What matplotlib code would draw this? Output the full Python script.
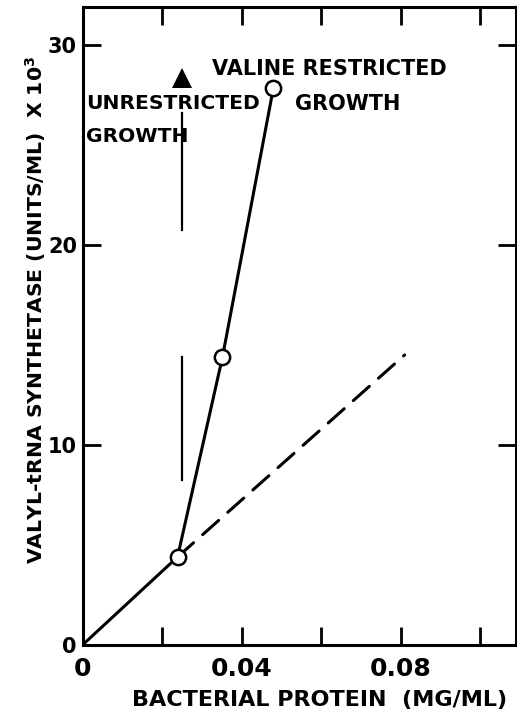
import matplotlib.pyplot as plt

# datos
protein = [0.0239, 0.0352, 0.048]          # mg/ml, puntos medidos
synthetase = [4.4, 14.4, 27.85]            # unidades/ml x 10^3
origin = (0.0, 0.0)
dashed_x = [0.0239, 0.081]                 # extrapolacion (crecimiento no restringido)
dashed_y = [4.4, 14.5]
shift_x = 0.0251                           # momento de la restriccion de valina
shift_low = [8.25, 14.4]
shift_high = [20.75, 26.6]
arrow_tip = 28.35

xticks = [0, 0.02, 0.04, 0.06, 0.08, 0.10]
xticklabels = ['0', '', '0.04', '', '0.08', '']
yticks = [0, 10, 20, 30]
yticklabels = ['0', '10', '20', '30']

plt.rcParams['font.family'] = ['DejaVu Sans']
plt.rcParams['font.weight'] = 'bold'

fig = plt.figure(figsize=(5.17, 7.18), dpi=100)
ax = fig.add_axes([0.1596, 0.1017, 0.8384, 0.8886])

lw = 2.2
ax.plot([origin[0]] + protein, [origin[1]] + synthetase, color='black', lw=lw,
        solid_capstyle='round', zorder=3)
ax.plot(dashed_x, dashed_y, color='black', lw=lw, dashes=(7, 4),
        dash_capstyle='round', zorder=2)
ax.plot(protein, synthetase, 'o', ms=11, mfc='white', mec='black', mew=1.8, zorder=4)

# flecha vertical
ax.plot([shift_x, shift_x], shift_low, color='black', lw=1.6)
ax.plot([shift_x, shift_x], shift_high, color='black', lw=1.6)
ax.plot([shift_x], [arrow_tip], marker='^', ms=15, color='black', mew=0)

txt = dict(fontsize=14.6, fontweight='bold', va='center', ha='left', zorder=5)
ax.text(0.0009, 27.05, 'UNRESTRICTED', **txt)
ax.text(0.0009, 25.4, 'GROWTH', **txt)
ax.text(0.0325, 28.78, 'VALINE RESTRICTED', fontsize=15, fontweight='bold',
        va='center', ha='left', zorder=5)
ax.text(0.0534, 27.05, 'GROWTH', fontsize=15, fontweight='bold',
        va='center', ha='left', zorder=5)

ax.set_xlim(0, 0.109)
ax.set_ylim(0, 31.9)
ax.set_xticks(xticks)
ax.set_xticklabels(xticklabels)
ax.set_yticks(yticks)
ax.set_yticklabels(yticklabels)
ax.tick_params(direction='in', length=13, width=2, top=True, right=True)
ax.tick_params(axis='x', labelsize=18, pad=9)
ax.tick_params(axis='y', labelsize=15, pad=4)
for s in ax.spines.values():
    s.set_linewidth(2.2)

ax.set_xlabel('BACTERIAL PROTEIN  (MG/ML)', fontsize=16, fontweight='bold')
ax.xaxis.set_label_coords(0.546, -0.07)
ax.set_ylabel('VALYL-tRNA SYNTHETASE (UNITS/ML)  X 10$^\\mathbf{3}$',
              fontsize=14.7, fontweight='bold')
ax.yaxis.set_label_coords(-0.08, 0.525)

fig.savefig('out.png', dpi=100)
